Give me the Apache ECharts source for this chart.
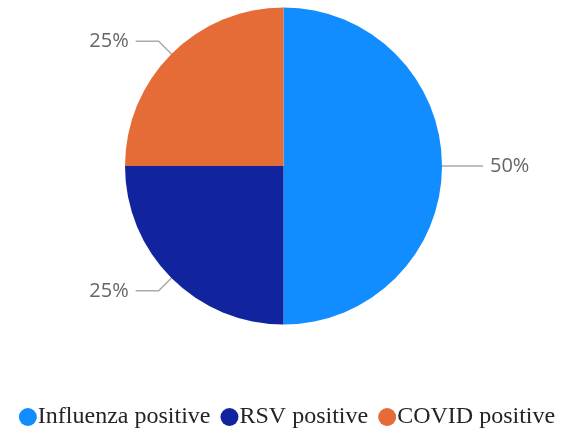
<!DOCTYPE html>
<head>
    <meta charset="UTF-8">
    <title>ECharts</title>
</head>
<body style="margin:0">
<div id="main" style="width:574px;height:434px"></div>
<script src="https://cdn.jsdelivr.net/npm/echarts@6/dist/echarts.min.js"></script>
<script type="text/javascript">
    var categories = ['Influenza positive', 'RSV positive', 'COVID positive'];
    var values = [50, 25, 25];
    var colors = ['#118DFF', '#12239E', '#E66C37'];

    var pieData = [];
    for (var i = 0; i < categories.length; i++) {
        pieData.push({ name: categories[i], value: values[i] });
    }

    var option = {
        animation: false,
        color: colors,
        legend: {
            bottom: 0,
            left: 'center',
            icon: 'circle',
            itemWidth: 18,
            itemHeight: 18,
            itemGap: 10,
            textStyle: {
                fontFamily: 'Liberation Serif',
                fontSize: 24,
                color: '#252423',
                padding: [0, 0, 0, -4]
            },
            data: categories
        },
        series: [
            {
                type: 'pie',
                center: [283.5, 166],
                radius: [0, 158.5],
                startAngle: 90,
                clockwise: true,
                data: pieData,
                label: {
                    formatter: '{d}%',
                    color: '#666',
                    fontFamily: 'Open Sans',
                    fontSize: 20,
                    distanceToLabelLine: 7
                },
                labelLine: {
                    length: 18,
                    length2: 23,
                    lineStyle: { color: '#aaa', width: 1.5 }
                }
            }
        ]
    };

    var myChart = echarts.init(document.getElementById('main'));
    myChart.setOption(option);
</script>
</body>
